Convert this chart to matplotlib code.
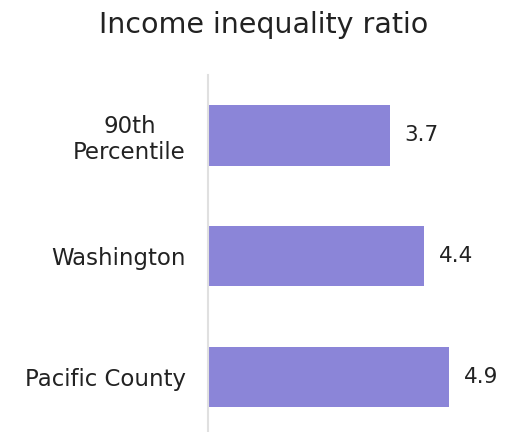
import matplotlib
matplotlib.use("Agg")
import matplotlib.pyplot as plt

categories = ["90th\nPercentile", "Washington", "Pacific County"]
values = [3.7, 4.4, 4.9]
title = "Income inequality ratio"

W, H = 509, 432
fig = plt.figure(figsize=(W / 100, H / 100), dpi=100)
plt.rcParams['font.family'] = ['DejaVu Sans']

ax = fig.add_axes([208 / W, -5 / H, (500 - 208) / W, (437 - 75) / H])
y = list(range(len(categories)))
ax.barh(y, values, height=0.5, color="#8b85d8")
ax.set_ylim(2.5, -0.5)
ax.set_xlim(0, 292 / 49.2)
ax.set_yticks(y)
labels = ax.set_yticklabels(categories, fontsize=16.5, color="#222222", linespacing=1.2)
for lab in labels:
    lab.set_multialignment("center")
ax.tick_params(axis="y", length=0, pad=16)
ax.set_xticks([])
for s in ["top", "right", "bottom"]:
    ax.spines[s].set_visible(False)
ax.spines["left"].set_color("#e0e0e0")
ax.spines["left"].set_linewidth(1.5)
for yi, v in zip(y, values):
    ax.text(v + 0.3, yi, f"{v}", va="center", ha="left", fontsize=15.5, color="#222222")

fig.text(264 / W, 1 - 25 / H, title, ha="center", va="center", fontsize=20.5, color="#222222")
fig.savefig("out.png", dpi=100)
